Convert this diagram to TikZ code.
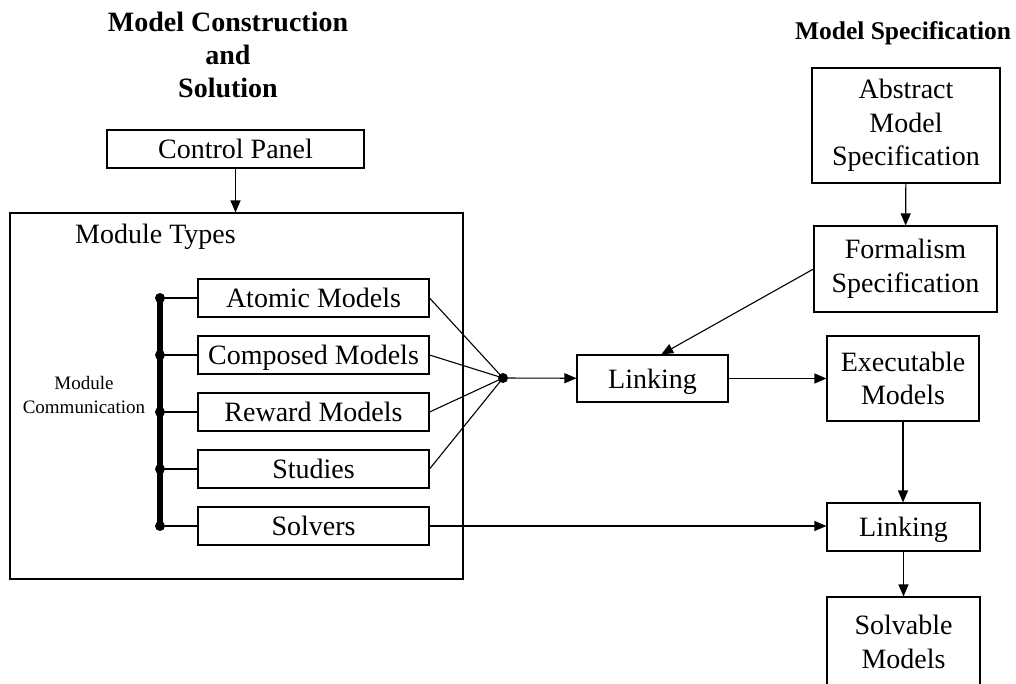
\documentclass[tikz,border=0pt]{standalone}
\usepackage{fontspec}
\setmainfont{Liberation Serif}
\usetikzlibrary{arrows.meta}
\newcommand{\boxfont}{\fontsize{28}{33.5}\selectfont}

\begin{document}
\begin{tikzpicture}[x=1pt,y=-1pt,
    box/.style={draw, line width=1.1pt, inner sep=0pt, align=center, font=\boxfont},
    onebox/.style={box, text height=19pt, text depth=0pt},
    flow/.style={line width=1.1pt, -{Triangle[length=12pt,width=10pt]}},
    jdot/.style={circle, fill, inner sep=0pt, minimum size=10pt}]
  \useasboundingbox (0,0) rectangle (1016,683);
  \clip (0,0) rectangle (1016,683);

  % titles
  \node (t1) at (228,55) [align=center, font=\bfseries\fontsize{28}{33}\selectfont] {Model Construction\\and\\Solution};
  \node (t2) at (903,33) [font=\bfseries\fontsize{25.5}{30}\selectfont] {Model Specification};

  % left side
  \node (cp) at (235.5,149) [onebox, minimum width=257pt, minimum height=38pt] {Control Panel};
  \node (mt) at (236.5,396) [box, minimum width=453pt, minimum height=366pt] {};
  \node (mtl) at (75,243) [anchor=base west, inner sep=0pt, font=\boxfont] {Module Types};
  \node (mc) at (84,395) [align=center, font=\fontsize{19}{23.5}\selectfont] {Module\\Communication};

  \node (am) at (313.5,298) [onebox, minimum width=231pt, minimum height=38pt] {Atomic Models};
  \node (cm) at (313.5,355) [onebox, minimum width=231pt, minimum height=38pt] {Composed Models};
  \node (rm) at (313.5,412) [onebox, minimum width=231pt, minimum height=38pt] {Reward Models};
  \node (st) at (313.5,469) [onebox, minimum width=231pt, minimum height=38pt] {Studies};
  \node (sv) at (313.5,526) [onebox, minimum width=231pt, minimum height=38pt] {Solvers};

  \node (d1) at (160,298) [jdot] {};
  \node (d2) at (160,355) [jdot] {};
  \node (d3) at (160,412) [jdot] {};
  \node (d4) at (160,469) [jdot] {};
  \node (d5) at (160,526) [jdot] {};
  \draw[line width=6pt] (d1.center) to (d5.center);
  \draw[line width=1.1pt]
    (d1) to (am.west) (d2) to (cm.west) (d3) to (rm.west)
    (d4) to (st.west) (d5) to (sv.west);

  \node (jn) at (503,378) [jdot] {};
  \draw[line width=1.1pt]
    (am.east) to (jn.center) (cm.east) to (jn.center)
    (rm.east) to (jn.center) (st.east) to (jn.center);

  % right side
  \node (lk1) at (652.5,378.5) [onebox, minimum width=151pt, minimum height=47pt] {Linking};
  \node (ams) at (906,125.5) [box, minimum width=188pt, minimum height=115pt] {Abstract\\Model\\Specification};
  \node (fs) at (905.5,269) [box, minimum width=183pt, minimum height=86pt] {Formalism\\Specification};
  \node (em) at (903,378.5) [box, minimum width=152pt, minimum height=85pt] {Executable\\Models};
  \node (lk2) at (903.5,527) [onebox, minimum width=153pt, minimum height=48pt] {Linking};
  \node (sm) at (903.5,642) [box, minimum width=153pt, minimum height=90pt] {Solvable\\Models};

  \draw[flow] (cp) to (cp |- mt.north);
  \draw[flow] (jn) to (lk1);
  \draw[flow] (ams) to (fs);
  \draw[flow] (fs.west) to (lk1.70);
  \draw[flow] (lk1) to (em);
  \draw[flow] (em) to (em |- lk2.north);
  \draw[flow] (sv) to (sv -| lk2.west);
  \draw[flow] (lk2) to (lk2 |- sm.north);
\end{tikzpicture}
\end{document}
